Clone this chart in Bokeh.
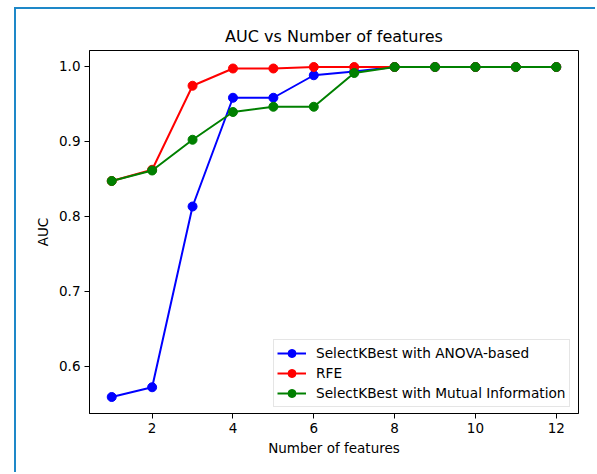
from bokeh.plotting import figure
from bokeh.models import Range1d, FixedTicker, Legend, LegendItem, NumeralTickFormatter
from bokeh.embed import file_html
from bokeh.resources import INLINE

features = [1, 2, 3, 4, 5, 6, 7, 8, 9, 10, 11, 12]
auc_anova = [0.559, 0.572, 0.813, 0.958, 0.958, 0.988, 0.993, 0.999, 0.999, 0.999, 0.999, 0.999]
auc_rfe = [0.847, 0.862, 0.974, 0.997, 0.997, 0.999, 0.999, 0.999, 0.999, 0.999, 0.999, 0.999]
auc_mi = [0.847, 0.861, 0.902, 0.939, 0.946, 0.946, 0.991, 0.999, 0.999, 0.999, 0.999, 0.999]
series_labels = ["SelectKBest with ANOVA-based", "RFE", "SelectKBest with Mutual Information"]
series_colors = ["#0000ff", "#ff0000", "#008000"]
x_ticks = [2, 4, 6, 8, 10, 12]
y_ticks = [0.6, 0.7, 0.8, 0.9, 1.0]

FONT = "DejaVu Sans"

p = figure(width=581, height=465, output_backend="svg", toolbar_location=None,
           x_range=Range1d(0.45, 12.55), y_range=Range1d(0.537, 1.021),
           min_border_left=73, min_border_right=19, min_border_top=41, min_border_bottom=61,
           title="AUC vs Number of features")
p.margin = (7, 0, 0, 14)
p.styles = {"border-left": "2px solid #1e88c8", "border-top": "2px solid #1e88c8"}
p.title.align = "center"
p.title.text_font = FONT
p.title.text_font_size = "16px"
p.title.text_font_style = "normal"
p.title.text_color = "black"

p.grid.visible = False
p.outline_line_color = "black"
p.outline_line_width = 1

for ax in (p.xaxis, p.yaxis):
    ax.major_label_text_font = FONT
    ax.major_label_text_font_size = "13.5px"
    ax.major_label_text_color = "black"
    ax.axis_label_text_font = FONT
    ax.axis_label_text_font_size = "13.5px"
    ax.axis_label_text_font_style = "normal"
    ax.axis_label_text_color = "black"
    ax.major_tick_in = 0
    ax.major_tick_out = 5
    ax.minor_tick_in = 0
    ax.minor_tick_out = 0
    ax.axis_line_color = "black"
    ax.major_tick_line_color = "black"
    ax.major_label_standoff = 4

p.xaxis.ticker = FixedTicker(ticks=x_ticks)
p.yaxis.ticker = FixedTicker(ticks=y_ticks)
p.yaxis.formatter = NumeralTickFormatter(format="0.0")
p.xaxis.axis_label = "Number of features"
p.yaxis.axis_label = "AUC"
p.xaxis.axis_label_standoff = 4
p.yaxis.axis_label_standoff = 5

items = []
for ys, lab, col in zip([auc_anova, auc_rfe, auc_mi], series_labels, series_colors):
    l = p.line(features, ys, line_color=col, line_width=2)
    s = p.scatter(features, ys, size=9, fill_color=col, line_color=col)
    items.append(LegendItem(label=lab, renderers=[l, s]))

legend = Legend(items=items, location=(184, 6))
legend.label_text_font = FONT
legend.label_text_font_size = "13.7px"
legend.label_text_color = "black"
legend.glyph_width = 29
legend.glyph_height = 20
legend.label_height = 20
legend.spacing = 0
legend.padding = 3
legend.margin = 0
legend.label_standoff = 10
legend.border_line_color = "#cccccc"
legend.border_line_width = 1
legend.background_fill_alpha = 0.8
p.add_layout(legend)

open("out.html", "w").write(file_html(p, INLINE))
